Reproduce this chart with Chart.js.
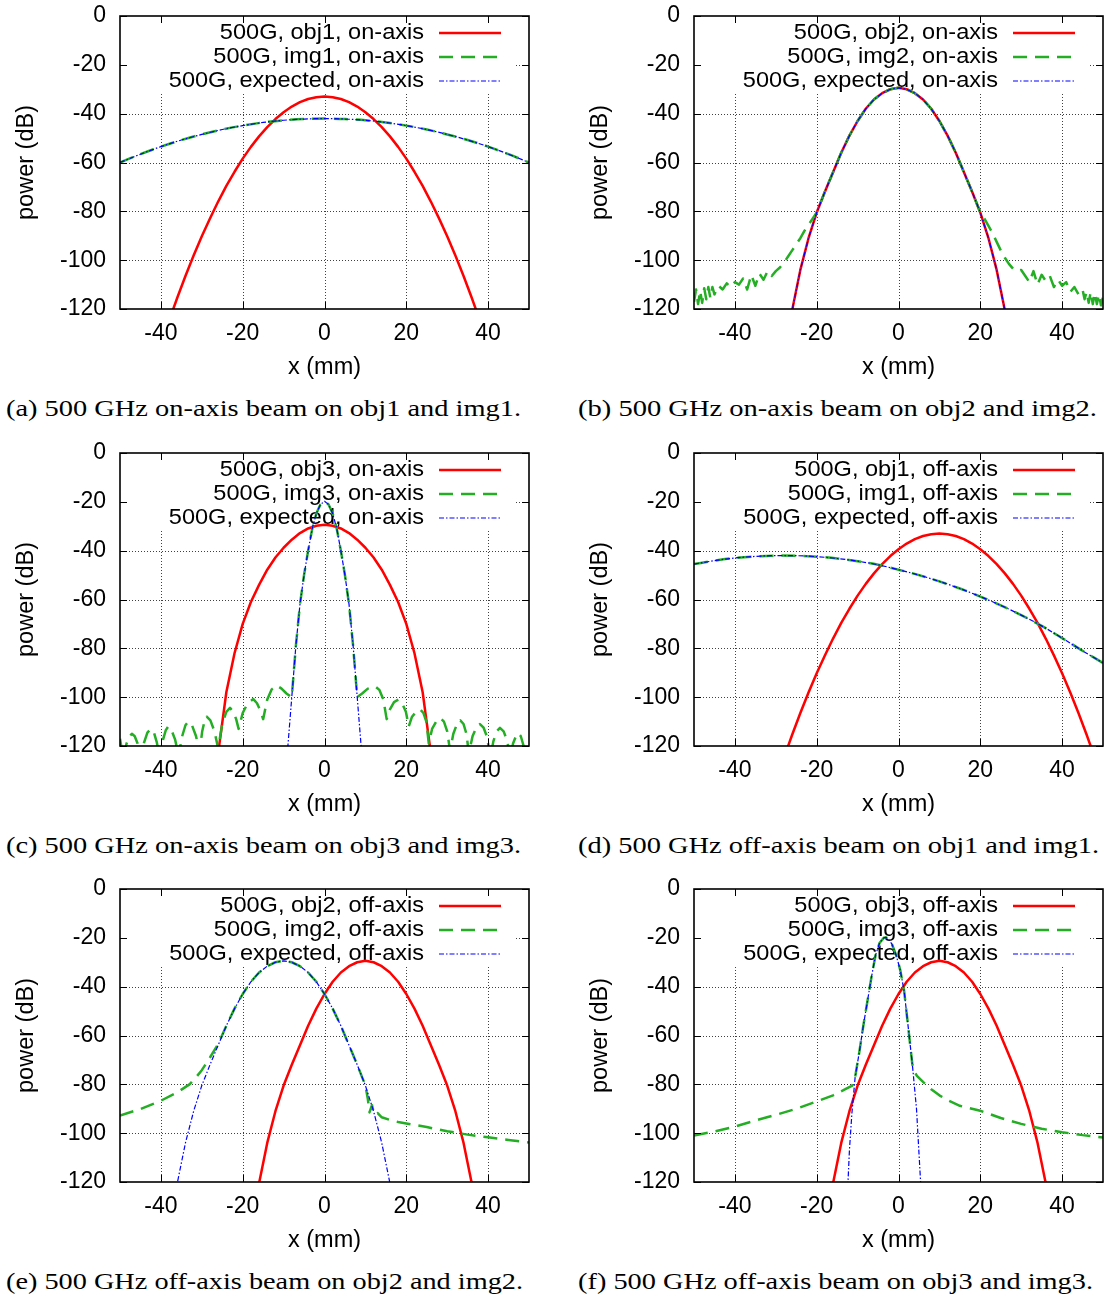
<!DOCTYPE html>
<html><head><meta charset="utf-8">
<script src="https://cdn.jsdelivr.net/npm/chart.js@4.4.1/dist/chart.umd.min.js"></script>
<style>
html,body{margin:0;padding:0;background:#fff;}
body{width:1105px;height:1299px;position:relative;overflow:hidden;}
.panel{position:absolute;width:531px;height:380px;}
.cap{position:absolute;font-family:"Liberation Serif","Times New Roman",serif;font-size:24px;line-height:28px;white-space:nowrap;color:#000;}
.cap span{display:inline-block;transform-origin:0 50%;}
</style></head><body>
<div class="panel" style="left:0;top:0"><canvas id="pa" width="531" height="380"></canvas></div>
<div class="panel" style="left:574px;top:0"><canvas id="pb" width="531" height="380"></canvas></div>
<div class="panel" style="left:0;top:437px"><canvas id="pc" width="531" height="380"></canvas></div>
<div class="panel" style="left:574px;top:437px"><canvas id="pd" width="531" height="380"></canvas></div>
<div class="panel" style="left:0;top:873px"><canvas id="pe" width="531" height="380"></canvas></div>
<div class="panel" style="left:574px;top:873px"><canvas id="pf" width="531" height="380"></canvas></div>
<div class="cap" style="left:6px;top:394px"><span data-w="515">(a) 500 GHz on-axis beam on obj1 and img1.</span></div>
<div class="cap" style="left:578px;top:394px"><span data-w="519">(b) 500 GHz on-axis beam on obj2 and img2.</span></div>
<div class="cap" style="left:6px;top:831px"><span data-w="515">(c) 500 GHz on-axis beam on obj3 and img3.</span></div>
<div class="cap" style="left:578px;top:831px"><span data-w="521">(d) 500 GHz off-axis beam on obj1 and img1.</span></div>
<div class="cap" style="left:6px;top:1267px"><span data-w="517">(e) 500 GHz off-axis beam on obj2 and img2.</span></div>
<div class="cap" style="left:578px;top:1267px"><span data-w="515">(f) 500 GHz off-axis beam on obj3 and img3.</span></div>
<script>
// ---------- axis ticks ----------
const X_TICKS = [-40, -20, 0, 20, 40];
const Y_TICKS = [0, -20, -40, -60, -80, -100, -120];

// ---------- (a) on-axis, obj1 / img1 ----------
const A_LABELS = ['500G, obj1, on-axis', '500G, img1, on-axis', '500G, expected, on-axis'];
const A_X_OBJ = [-38,-36,-34,-32,-30,-28,-26,-24,-22,-20,-18,-16,-14,-12,-10,-8,-6,-4,-2,0,2,4,6,8,10,12,14,16,18,20,22,24,26,28,30,32,34,36,38];
const A_Y_OBJ = [-124.8,-115.4,-106.5,-98.1,-90.2,-82.9,-76.0,-69.6,-63.8,-58.4,-53.6,-49.3,-45.5,-42.2,-39.4,-37.1,-35.3,-34.0,-33.25,-33,-33.25,-34.0,-35.3,-37.1,-39.4,-42.2,-45.5,-49.3,-53.6,-58.4,-63.8,-69.6,-76.0,-82.9,-90.2,-98.1,-106.5,-115.4,-124.8];
const A_X_IMG = [-50,-45,-40,-35,-30,-25,-20,-15,-10,-5,0,5,10,15,20,25,30,35,40,45,50];
const A_Y_IMG = [-60,-56.6,-53.5,-50.8,-48.5,-46.5,-44.9,-43.6,-42.7,-42.2,-42,-42.2,-42.7,-43.6,-44.9,-46.5,-48.5,-50.8,-53.5,-56.6,-60];
const A_X_EXP = [-50,-45,-40,-35,-30,-25,-20,-15,-10,-5,0,5,10,15,20,25,30,35,40,45,50];
const A_Y_EXP = [-60,-56.6,-53.5,-50.8,-48.5,-46.5,-44.9,-43.6,-42.7,-42.2,-42,-42.2,-42.7,-43.6,-44.9,-46.5,-48.5,-50.8,-53.5,-56.6,-60];

// ---------- (b) on-axis, obj2 / img2 ----------
const B_LABELS = ['500G, obj2, on-axis', '500G, img2, on-axis', '500G, expected, on-axis'];
const B_X_OBJ = [-27,-26,-24,-22,-20,-18,-16,-14,-12,-10,-8,-6,-4,-2,0,2,4,6,8,10,12,14,16,18,20,22,24,26,27];
const B_Y_OBJ = [-128,-120.5,-104,-91,-80.5,-72,-64,-56,-49,-43,-38,-34.2,-31.6,-30,-29.4,-30,-31.6,-34.2,-38,-43,-49,-56,-64,-72,-80.5,-91,-104,-120.5,-128];
const B_X_IMG = [-50,-49.5,-49,-48.5,-48,-47.5,-47,-46.5,-46,-45.5,-45,-44,-43,-42,-41,-40,-39,-38,-37,-36,-35,-34,-33,-32,-31,-30,-29,-28,-27,-26,-25,-24,-23,-22,-21,-20,-18,-16,-14,-12,-10,-8,-6,-4,-2,0,2,4,6,8,10,12,14,16,18,20,21,22,23,24,25,26,27,28,29,30,31,32,33,34,35,36,37,38,39,40,41,42,43,44,45,45.5,46,46.5,47,47.5,48,48.5,49,49.5,50];
const B_Y_IMG = [-117,-112,-118,-112.5,-117.5,-111.5,-116,-111,-115.5,-111,-114,-110.5,-112,-109.5,-111,-109,-110,-107.5,-112,-106,-110.5,-105.5,-108,-104.5,-106.5,-104.5,-103,-101,-98.5,-96,-93.5,-91,-88,-85.5,-83,-80.5,-72,-64,-56,-49,-43,-38,-34.2,-31.6,-30,-29.4,-30,-31.6,-34.2,-38,-43,-49,-56,-64,-72,-80.5,-83,-86,-89,-92.5,-96,-99,-101.5,-103.5,-104.5,-104,-106.5,-109,-104.5,-110,-106,-108.5,-106.5,-111,-108,-110.5,-109,-113,-111,-114,-112,-116,-113,-117.5,-113,-118,-113.5,-118,-114,-118.5,-115];
const B_X_EXP = [-27,-26,-24,-22,-20,-18,-16,-14,-12,-10,-8,-6,-4,-2,0,2,4,6,8,10,12,14,16,18,20,22,24,26,27];
const B_Y_EXP = [-128,-120.5,-104,-91,-80.5,-72,-64,-56,-49,-43,-38,-34.2,-31.6,-30,-29.4,-30,-31.6,-34.2,-38,-43,-49,-56,-64,-72,-80.5,-91,-104,-120.5,-128];

// ---------- (c) on-axis, obj3 / img3 ----------
const C_LABELS = ['500G, obj3, on-axis', '500G, img3, on-axis', '500G, expected, on-axis'];
const C_X_OBJ = [-26,-24,-22,-20,-18,-16,-14,-12,-10,-8,-6,-4,-2,0,2,4,6,8,10,12,14,16,18,20,22,24,26];
const C_Y_OBJ = [-123,-98,-82,-70,-61,-54,-47.8,-42.8,-38.8,-35.5,-32.8,-30.9,-29.8,-29.4,-29.8,-30.9,-32.8,-35.5,-38.8,-42.8,-47.8,-54,-61,-70,-82,-98,-123];
const C_X_IMG = [-50,-49.6,-49.2,-48.4,-47.7,-47.1,-46.4,-45.7,-45,-44.1,-43.3,-42.5,-41.7,-41,-40.3,-39.5,-38.8,-38.2,-37.4,-36.5,-35.7,-34.8,-34,-33.3,-32.4,-31.4,-30.6,-29.9,-29.3,-28.8,-27.9,-26.9,-26,-25,-24,-23.1,-22.3,-21.6,-21,-20,-18.8,-17.4,-16.5,-15.7,-15,-14,-12.9,-11.7,-10.5,-9.3,-8,-7,-6,-5,-4,-3,-2,-1,0,1,2,3,4,5,6,7,8,9.2,10.6,12.4,13.4,14.4,15.2,16,17,18.1,19,19.9,20.6,21.4,22.4,23.4,24.2,24.9,25.5,26.3,27.3,28.3,29.2,30,30.7,31.5,32.4,33.2,34,34.7,35.3,36.2,37.1,38,38.9,39.8,40.5,41.3,42.1,42.9,43.8,44.7,45.4,46.1,46.8,47.4,48,48.6,49.2,50];
const C_Y_IMG = [-117,-121,-125,-119,-116,-115,-116,-119,-125,-118.5,-114.5,-113,-114.5,-118.5,-125,-117.5,-113.5,-112,-113.5,-117.5,-124,-116,-111.5,-110,-111.5,-116,-123,-114,-109.5,-108,-109.5,-114,-121,-111,-106,-104.4,-106,-109,-113,-106.5,-102.5,-100.8,-102.5,-105.5,-109,-101,-96.8,-95.2,-96.5,-98.5,-100,-79,-62,-50,-40,-31,-24.8,-21.1,-19.8,-21.1,-24.8,-31,-40,-50,-62,-79,-100,-98.5,-96.5,-95.6,-97,-101,-109,-105,-102,-101,-102.5,-106,-112,-108,-106,-105,-106.5,-110,-119,-113,-110,-108.5,-110,-114,-122,-115,-111,-109.5,-111,-115,-123,-116,-112.5,-111,-112.5,-116.5,-125,-118,-114,-112.6,-114,-118,-125,-119,-116,-114.7,-116,-119.5,-125,-118];
const C_X_EXP = [-9,-8,-7,-6,-5,-4,-3,-2,-1,0,1,2,3,4,5,6,7,8,9];
const C_Y_EXP = [-121,-100,-79,-62,-50,-40,-31,-24.8,-21.1,-19.8,-21.1,-24.8,-31,-40,-50,-62,-79,-100,-121];

// ---------- (d) off-axis, obj1 / img1 ----------
const D_LABELS = ['500G, obj1, off-axis', '500G, img1, off-axis', '500G, expected, off-axis'];
const D_X_OBJ = [-28,-26,-24,-22,-20,-18,-16,-14,-12,-10,-8,-6,-4,-2,0,2,4,6,8,10,12,14,16,18,20,22,24,26,28,30,32,34,36,38,40,42,44,46,48];
const D_Y_OBJ = [-124.8,-115.4,-106.5,-98.1,-90.2,-82.9,-76.0,-69.6,-63.8,-58.4,-53.6,-49.3,-45.5,-42.2,-39.4,-37.1,-35.3,-34.0,-33.25,-33,-33.25,-34.0,-35.3,-37.1,-39.4,-42.2,-45.5,-49.3,-53.6,-58.4,-63.8,-69.6,-76.0,-82.9,-90.2,-98.1,-106.5,-115.4,-124.8];
const D_X_IMG = [-50,-45,-40,-35,-30,-25,-20,-15,-10,-5,0,5,10,15,20,25,30,35,40,45,50];
const D_Y_IMG = [-45.5,-44.1,-43.0,-42.35,-42.03,-42.06,-42.46,-43.2,-44.3,-45.8,-47.8,-50.0,-52.6,-55.5,-58.8,-62.4,-66.4,-70.8,-75.8,-81.0,-86];
const D_X_EXP = [-50,-45,-40,-35,-30,-25,-20,-15,-10,-5,0,5,10,15,20,25,30,35,40,45,50];
const D_Y_EXP = [-45.5,-44.1,-43.0,-42.35,-42.03,-42.06,-42.46,-43.2,-44.3,-45.8,-47.8,-50.0,-52.6,-55.5,-58.8,-62.4,-66.4,-70.8,-75.8,-81.0,-86];

// ---------- (e) off-axis, obj2 / img2 ----------
const E_LABELS = ['500G, obj2, off-axis', '500G, img2, off-axis', '500G, expected, off-axis'];
const E_X_OBJ = [-17,-16,-14,-12,-10,-8,-6,-4,-2,0,2,4,6,8,10,12,14,16,18,20,22,24,26,28,30,32,34,36,37];
const E_Y_OBJ = [-128,-120.5,-104,-91,-80.5,-72,-64,-56,-49,-43,-38,-34.2,-31.6,-30,-29.4,-30,-31.6,-34.2,-38,-43,-49,-56,-64,-72,-80.5,-91,-104,-120.5,-128];
const E_X_IMG = [-50,-45,-40,-36,-33,-31.5,-30,-28,-26,-24,-22,-20,-18,-16,-14,-12,-10,-8,-6,-4,-2,0,2,4,6,8,10,10.6,11,11.6,12.2,13,14,16,18,20,25,30,35,40,45,50];
const E_Y_IMG = [-92.8,-90.1,-86.7,-83.3,-80,-77.3,-74.2,-69,-63.5,-56,-49,-43,-38,-34.2,-31.6,-30,-29.4,-30,-31.6,-34.2,-38,-43,-49,-56,-64,-72,-80.5,-86,-91.5,-88.5,-92.5,-91.8,-93.5,-94.6,-95.4,-96,-97.5,-99.2,-100.6,-101.7,-102.8,-103.8];
const E_X_EXP = [-37,-36,-34,-32,-30,-28,-26,-24,-22,-20,-18,-16,-14,-12,-10,-8,-6,-4,-2,0,2,4,6,8,10,12,14,16,17];
const E_Y_EXP = [-128,-120.5,-104,-91,-80.5,-72,-64,-56,-49,-43,-38,-34.2,-31.6,-30,-29.4,-30,-31.6,-34.2,-38,-43,-49,-56,-64,-72,-80.5,-91,-104,-120.5,-128];

// ---------- (f) off-axis, obj3 / img3 ----------
const F_LABELS = ['500G, obj3, off-axis', '500G, img3, off-axis', '500G, expected, off-axis'];
const F_X_OBJ = [-17,-16,-14,-12,-10,-8,-6,-4,-2,0,2,4,6,8,10,12,14,16,18,20,22,24,26,28,30,32,34,36,37];
const F_Y_OBJ = [-128,-120.5,-104,-91,-80.5,-72,-64,-56,-49,-43,-38,-34.2,-31.6,-30,-29.4,-30,-31.6,-34.2,-38,-43,-49,-56,-64,-72,-80.5,-91,-104,-120.5,-128];
const F_X_IMG = [-50,-45,-40,-35,-30,-25,-20,-16,-13,-11.3,-10.6,-9.6,-8.6,-7.6,-6.6,-5.6,-4.6,-3.6,-3.1,-2.6,-1.6,-0.6,0.4,1.4,2.4,3.4,3.8,4.5,6,8,10,12,15,20,25,30,35,40,45,50];
const F_Y_IMG = [-101,-99.3,-97.3,-94.8,-92.5,-90,-87,-84.5,-82,-80.5,-77,-67,-56,-46,-36,-27,-22,-20,-19.8,-20.2,-22.6,-27,-33,-42,-57,-72,-74.5,-76.5,-79,-82,-84.5,-86.5,-88.8,-90.8,-93.8,-96.2,-98.2,-99.6,-100.8,-101.8];
const F_X_EXP = [-12.4,-12,-11.4,-10.6,-9.6,-8.6,-7.6,-6.6,-5.6,-4.6,-3.6,-3.1,-2.6,-1.6,-0.6,0.4,1.4,2.4,3.4,4.4,5.4,5.8];
const F_Y_EXP = [-122,-107,-92,-77,-67,-56,-46,-36,-27,-22,-20,-19.8,-20.2,-22.6,-27,-33,-42,-57,-72,-90,-120,-128];

// ---------- styles ----------
const FONT = '"Liberation Sans", Arial, Helvetica, sans-serif';
const STYLES = [
  {borderColor: '#ff0000', borderWidth: 2.5, borderDash: [], order: 3},
  {borderColor: '#24ae24', borderWidth: 2.5, borderDash: [14, 8], order: 2},
  {borderColor: '#0000ff', borderWidth: 1.2, borderDash: [5, 2, 1.5, 2], order: 1}
];

const framePlugin = {
  id: 'gpframe',
  beforeDatasetsDraw(chart) {
    const {ctx, chartArea: ca, scales: {x, y}} = chart;
    ctx.save();
    // dotted grid
    ctx.strokeStyle = 'rgba(0,0,0,0.75)';
    ctx.lineWidth = 1;
    ctx.setLineDash([1, 2]);
    X_TICKS.forEach(v => {
      const px = Math.round(x.getPixelForValue(v)) + 0.5;
      ctx.beginPath(); ctx.moveTo(px, ca.top); ctx.lineTo(px, ca.bottom); ctx.stroke();
    });
    Y_TICKS.forEach(v => {
      if (v === 0 || v === -120) return;
      const py = Math.round(y.getPixelForValue(v)) + 0.5;
      ctx.beginPath(); ctx.moveTo(ca.left, py); ctx.lineTo(ca.right, py); ctx.stroke();
    });
    ctx.setLineDash([]);
    // opaque key box
    ctx.fillStyle = '#fff';
    ctx.fillRect(ca.left + 1, ca.top + 1, (ca.right - 15) - (ca.left + 1), 76);
    // key entries
    chart.data.datasets.forEach((ds, i) => {
      const yy = ca.top + 17 + i * 24;
      ctx.save();
      ctx.font = '22px ' + FONT;
      ctx.fillStyle = '#000';
      ctx.textAlign = 'right';
      ctx.textBaseline = 'middle';
      ctx.translate(ca.right - 105, yy);
      ctx.scale(1.07, 1);
      ctx.fillText(ds.label, 0, 0);
      ctx.restore();
      ctx.beginPath();
      ctx.strokeStyle = ds.borderColor;
      ctx.lineWidth = ds.borderWidth;
      ctx.setLineDash(ds.borderDash || []);
      ctx.moveTo(ca.right - 90, yy);
      ctx.lineTo(ca.right - 28, yy);
      ctx.stroke();
    });
    ctx.restore();
  },
  afterDatasetsDraw(chart) {
    const {ctx, chartArea: ca, scales: {x, y}} = chart;
    ctx.save();
    ctx.setLineDash([]);
    ctx.strokeStyle = '#000';
    ctx.lineWidth = 1;
    const tl = 7;
    X_TICKS.forEach(v => {
      const px = Math.round(x.getPixelForValue(v)) + 0.5;
      ctx.beginPath();
      ctx.moveTo(px, ca.bottom); ctx.lineTo(px, ca.bottom - tl);
      ctx.moveTo(px, ca.top); ctx.lineTo(px, ca.top + tl);
      ctx.stroke();
    });
    Y_TICKS.forEach(v => {
      const py = Math.round(y.getPixelForValue(v)) + 0.5;
      ctx.beginPath();
      ctx.moveTo(ca.left, py); ctx.lineTo(ca.left + tl, py);
      ctx.moveTo(ca.right, py); ctx.lineTo(ca.right - tl, py);
      ctx.stroke();
    });
    ctx.lineWidth = 1.6;
    ctx.strokeRect(ca.left, ca.top, ca.right - ca.left, ca.bottom - ca.top);
    ctx.restore();
  }
};

function zeroPad(s) { s.paddingTop = 0; s.paddingBottom = 0; s.paddingLeft = 0; s.paddingRight = 0; }

function makePanel(id, labels, series) {
  const datasets = series.map((s, i) => Object.assign({
    label: labels[i],
    data: s[0].map((xv, j) => ({x: xv, y: s[1][j]})),
    pointRadius: 0,
    fill: false,
    clip: 0,
    tension: 0,
    borderJoinStyle: 'round',
    cubicInterpolationMode: s[2] ? 'monotone' : 'default'
  }, STYLES[i]));
  new Chart(document.getElementById(id), {
    type: 'line',
    data: {datasets},
    plugins: [framePlugin],
    options: {
      responsive: false,
      animation: false,
      devicePixelRatio: 1,
      events: [],
      layout: {padding: {left: 0, right: 2, top: 16, bottom: 0}},
      plugins: {legend: {display: false}, tooltip: {enabled: false}},
      scales: {
        x: {
          type: 'linear', min: -50, max: 50,
          afterBuildTicks: s => { s.ticks = X_TICKS.map(v => ({value: v})); },
          afterFit: s => { s.height = 71; zeroPad(s); },
          grid: {display: false, drawTicks: false},
          border: {display: false},
          ticks: {font: {family: FONT, size: 23}, color: '#000', padding: 11, maxRotation: 0, minRotation: 0, autoSkip: false},
          title: {display: true, text: 'x (mm)', font: {family: FONT, size: 23.5}, color: '#000', padding: {top: 0, bottom: -2}}
        },
        y: {
          type: 'linear', min: -120, max: 0,
          afterBuildTicks: s => { s.ticks = Y_TICKS.map(v => ({value: v})); },
          afterFit: s => { s.width = 120; zeroPad(s); },
          grid: {display: false, drawTicks: false},
          border: {display: false},
          ticks: {font: {family: FONT, size: 23}, color: '#000', padding: 14, autoSkip: false},
          title: {display: true, text: 'power (dB)', font: {family: FONT, size: 23.5}, color: '#000', padding: {top: 12, bottom: 0}}
        }
      }
    }
  });
}

makePanel('pa', A_LABELS, [[A_X_OBJ, A_Y_OBJ, false], [A_X_IMG, A_Y_IMG, true], [A_X_EXP, A_Y_EXP, true]]);
makePanel('pb', B_LABELS, [[B_X_OBJ, B_Y_OBJ, false], [B_X_IMG, B_Y_IMG, false], [B_X_EXP, B_Y_EXP, false]]);
makePanel('pc', C_LABELS, [[C_X_OBJ, C_Y_OBJ, false], [C_X_IMG, C_Y_IMG, false], [C_X_EXP, C_Y_EXP, false]]);
makePanel('pd', D_LABELS, [[D_X_OBJ, D_Y_OBJ, false], [D_X_IMG, D_Y_IMG, true], [D_X_EXP, D_Y_EXP, true]]);
makePanel('pe', E_LABELS, [[E_X_OBJ, E_Y_OBJ, false], [E_X_IMG, E_Y_IMG, false], [E_X_EXP, E_Y_EXP, false]]);
makePanel('pf', F_LABELS, [[F_X_OBJ, F_Y_OBJ, false], [F_X_IMG, F_Y_IMG, false], [F_X_EXP, F_Y_EXP, false]]);

// fit caption widths to the reference
document.querySelectorAll('.cap span').forEach(sp => {
  const w = sp.getBoundingClientRect().width;
  const t = +sp.dataset.w;
  if (w > 0) sp.style.transform = 'scaleX(' + (t / w).toFixed(4) + ')';
});
</script>
</body></html>
